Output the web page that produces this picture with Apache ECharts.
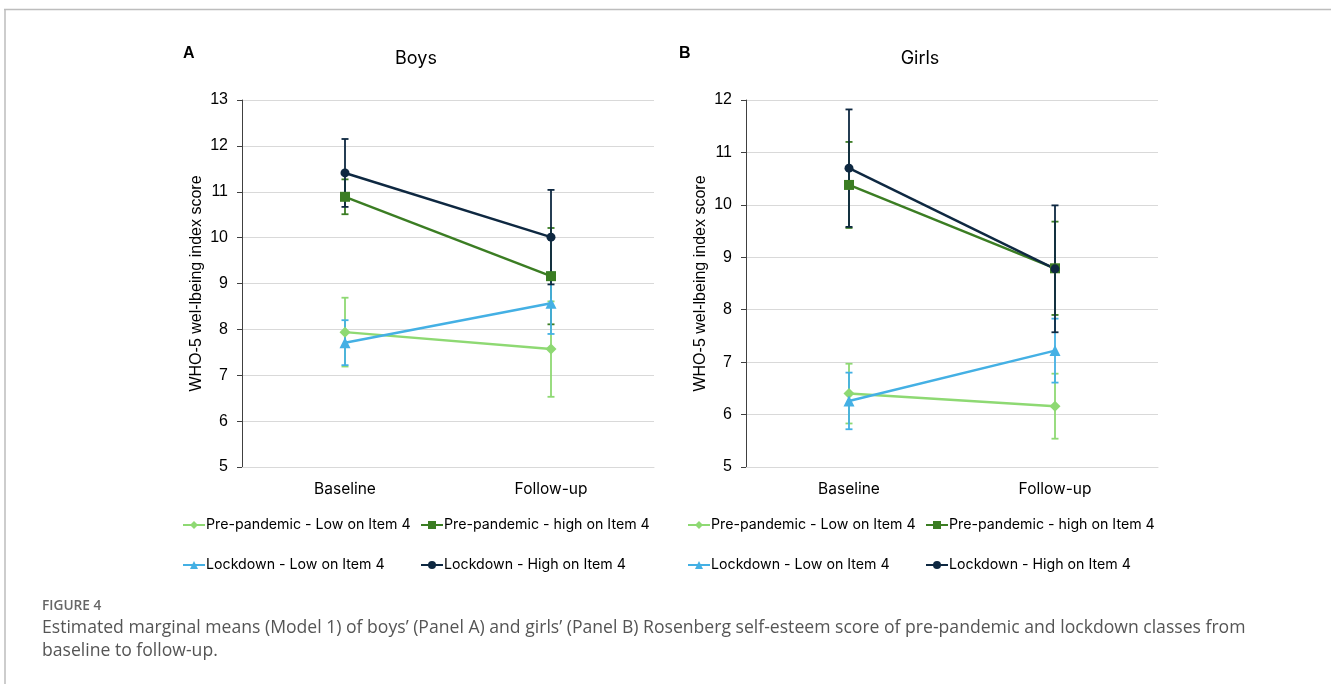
<!DOCTYPE html>
<html>
<head>
<meta charset="utf-8">
<script src="https://cdn.jsdelivr.net/npm/echarts@6/dist/echarts.min.js"></script>
<style>html,body{margin:0;padding:0;background:#fff;}#c{width:1331px;height:684px;}</style>
</head>
<body>
<div id="c"></div>
<script>
const categories = ['Baseline', 'Follow-up'];
const seriesNames = ['Pre-pandemic - Low on Item 4', 'Pre-pandemic - high on Item 4', 'Lockdown - Low on Item 4', 'Lockdown - High on Item 4'];
const yTicksBoys = { min: 5, max: 13, interval: 1 };
const yTicksGirls = { min: 5, max: 12, interval: 1 };

const boysPreLow = [7.94, 7.57];
const boysPreLowErr = [0.75, 1.04];
const boysPreHigh = [10.89, 9.16];
const boysPreHighErr = [0.38, 1.05];
const boysLockLow = [7.71, 8.57];
const boysLockLowErr = [0.49, 0.67];
const boysLockHigh = [11.41, 10.01];
const boysLockHighErr = [0.74, 1.03];

const girlsPreLow = [6.40, 6.16];
const girlsPreLowErr = [0.57, 0.62];
const girlsPreHigh = [10.38, 8.79];
const girlsPreHighErr = [0.82, 0.89];
const girlsLockLow = [6.26, 7.22];
const girlsLockLowErr = [0.54, 0.61];
const girlsLockHigh = [10.70, 8.78];
const girlsLockHighErr = [1.12, 1.21];

const colors = ['#8ED973', '#3B7D23', '#44B0E4', '#0E2841'];
const symbols = ['diamond', 'rect', 'triangle', 'circle'];
const symbolSizes = [11, 10, 11, 9];

const panels = [
  { means: [boysPreLow, boysPreHigh, boysLockLow, boysLockHigh], errs: [boysPreLowErr, boysPreHighErr, boysLockLowErr, boysLockHighErr] },
  { means: [girlsPreLow, girlsPreHigh, girlsLockLow, girlsLockHigh], errs: [girlsPreLowErr, girlsPreHighErr, girlsLockLowErr, girlsLockHighErr] }
];

const chart = echarts.init(document.getElementById('c'));
const legendFont = 'Inter, "Noto Sans", sans-serif';
const tickFont = '"Liberation Sans", Arial, sans-serif';

const series = [];
panels.forEach((p, pi) => {
  p.means.forEach((m, si) => {
    const errData = m.map((v, i) => [i, v - p.errs[si][i], v + p.errs[si][i]]);
    series.push({
      type: 'custom', name: seriesNames[si] + '_err', xAxisIndex: pi, yAxisIndex: pi, z: 1,
      silent: true,
      data: errData,
      renderItem: (params, api) => {
        const x = api.value(0);
        const top = api.coord([x, api.value(2)]);
        const bot = api.coord([x, api.value(1)]);
        const cap = 3.5;
        const st = { stroke: colors[si], lineWidth: 1.8 };
        return { type: 'group', children: [
          { type: 'line', shape: { x1: top[0], y1: top[1], x2: bot[0], y2: bot[1] }, style: st },
          { type: 'line', shape: { x1: top[0] - cap, y1: top[1], x2: top[0] + cap, y2: top[1] }, style: st },
          { type: 'line', shape: { x1: bot[0] - cap, y1: bot[1], x2: bot[0] + cap, y2: bot[1] }, style: st }
        ]};
      }
    });
  });
});
panels.forEach((p, pi) => {
  p.means.forEach((m, si) => {
    series.push({
      type: 'line', name: seriesNames[si], xAxisIndex: pi, yAxisIndex: pi, z: 3,
      data: m, symbol: symbols[si], symbolSize: symbolSizes[si], showSymbol: true,
      lineStyle: { color: colors[si], width: 2.5 },
      itemStyle: { color: colors[si] },
      animation: false
    });
  });
});

function yAxis(gi, t) {
  return {
    type: 'value', gridIndex: gi, min: t.min, max: t.max, interval: t.interval,
    name: 'WHO-5 wel-lbeing index score', nameLocation: 'middle', nameRotate: 90, nameGap: 37,
    nameTextStyle: { fontFamily: tickFont, fontSize: 16, color: '#000' },
    axisLine: { show: true, lineStyle: { color: '#404040', width: 1 } },
    axisTick: { show: true, length: 5, lineStyle: { color: '#404040' } },
    axisLabel: { fontFamily: tickFont, fontSize: 16, color: '#000', margin: 14 },
    splitLine: { show: true, lineStyle: { color: '#D9D9D9', width: 1 } }
  };
}
function xAxis(gi) {
  return {
    type: 'category', gridIndex: gi, data: categories, boundaryGap: true,
    axisLine: { show: true, lineStyle: { color: '#D9D9D9', width: 1 } },
    axisTick: { show: false },
    axisLabel: { fontFamily: legendFont, fontSize: 15.5, color: '#000', margin: 14 }
  };
}

const legendPos = [[182, 518], [420, 518], [182, 558], [420, 558]];
const legends = [];
[0, 505].forEach(dx => {
  seriesNames.forEach((n, si) => {
    legends.push({
      left: legendPos[si][0] + dx, top: legendPos[si][1], data: [n], selectedMode: false,
      itemWidth: 22, itemHeight: 10, itemGap: 0, padding: 0,
      textStyle: { fontFamily: legendFont, fontSize: 14.2, color: '#000', padding: [0, 0, 0, -4] }
    });
  });
});

chart.setOption({
  animation: false,
  backgroundColor: '#fff',
  title: [
    { text: 'Boys', left: 411, top: 45, textAlign: 'center', textStyle: { fontFamily: legendFont, fontSize: 18, fontWeight: 'normal', color: '#000' } },
    { text: 'Girls', left: 915, top: 45, textAlign: 'center', textStyle: { fontFamily: legendFont, fontSize: 18, fontWeight: 'normal', color: '#000' } },
    { text: 'A', left: 178, top: 41, textStyle: { fontFamily: tickFont, fontSize: 16, fontWeight: 'bold', color: '#000' } },
    { text: 'B', left: 674, top: 41, textStyle: { fontFamily: tickFont, fontSize: 16, fontWeight: 'bold', color: '#000' } }
  ],
  legend: legends,
  grid: [
    { left: 242, top: 100, width: 412, height: 367 },
    { left: 746, top: 100, width: 412, height: 367 }
  ],
  xAxis: [xAxis(0), xAxis(1)],
  yAxis: [yAxis(0, yTicksBoys), yAxis(1, yTicksGirls)],
  series: series,
  graphic: [
    { type: 'line', shape: { x1: 4, y1: 9.5, x2: 1331, y2: 9.5 }, style: { stroke: '#BDBDBD', lineWidth: 1.5 } },
    { type: 'line', shape: { x1: 5, y1: 9, x2: 5, y2: 684 }, style: { stroke: '#BDBDBD', lineWidth: 1.5 } },
    { type: 'text', left: 42, top: 599, style: { text: 'FIGURE 4', fontFamily: '"Open Sans", sans-serif', fontSize: 13.7, fontWeight: 600, fill: '#666' } },
    { type: 'text', left: 42, top: 619, style: { text: 'Estimated marginal means (Model 1) of boys\u2019 (Panel A) and girls\u2019 (Panel B) Rosenberg self-esteem score of pre-pandemic and lockdown classes from', fontFamily: '"Open Sans", sans-serif', fontSize: 17.6, fill: '#555' } },
    { type: 'text', left: 42, top: 642, style: { text: 'baseline to follow-up.', fontFamily: '"Open Sans", sans-serif', fontSize: 17.6, fill: '#555' } }
  ]
});
</script>
</body>
</html>
